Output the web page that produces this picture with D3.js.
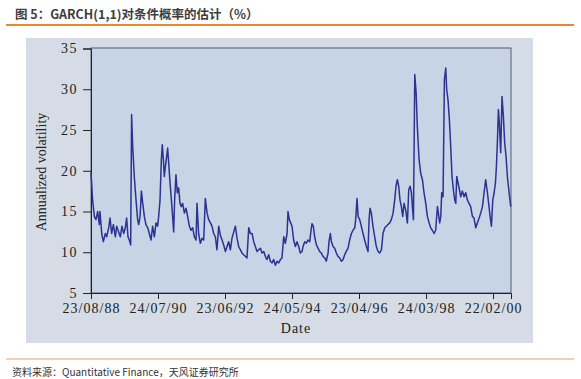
<!DOCTYPE html>
<html><head><meta charset="utf-8">
<script src="https://cdn.jsdelivr.net/npm/d3@7"></script>
<style>
html,body{margin:0;padding:0;background:#fff;}
svg{display:block;}
</style></head>
<body>
<svg id="c" width="581" height="379"></svg>
<script>
// Observation index (trading days since 23/08/88)
const obs = [0,12,25,37,50,62,67,80,92,107,117,132,142,154,167,182,192,206,219,231,244,256,266,276,286,296,303,311,323,336,348,356,366,376,386,398,410,423,435,448,460,473,485,497,505,515,525,532,540,547,555,565,572,580,590,600,609,617,624,634,644,654,664,674,684,697,709,721,734,746,759,771,784,
791,803,816,828,841,853,866,878,891,903,915,928,940,953,965,978,990,1003,1015,1027,1040,1052,1065,1077,1090,1102,1115,1127,1139,1152,1164,1177,1189,1202,1214,1226,1239,1251,1264,1276,1289,1301,1313,1326,1338,1351,1363,1376,1388,1401,1413,1425,1438,1450,1463,1470,1480,1490,1500,1512,1525,1537,1550,1562,
1575,1582,1595,1607,1619,1632,1639,1649,1659,1669,1682,1694,1706,1719,1731,1744,1756,1769,1776,1786,1794,1806,1818,1831,1843,1856,1868,1881,1893,1905,1918,1930,1943,1955,1968,1975,1985,1993,2005,2017,2030,2042,2055,2067,2075,2082,2092,2104,2117,2129,2142,2154,2167,2179,2192,2204,2216,2229,2241,2254,2266,2276,2286,2296,2306,2316,2326,2336,
2348,2361,2371,2381,2391,2398,2406,2416,2426,2435,2448,2460,2473,2485,2498,2510,2523,2535,2547,2560,2572,2585,2592,2602,2610,2617,2627,2637,2647,2654,2664,2674,2684,2694,2704,2714,2722,2729,2739,2749,2759,2771,2784,2796,2809,2821,2833,2846,2858,2871,2883,2896,2908,2921,2933,2945,2958,2970,2978,2988,2998,3008,3018,3025,3033,3040,3047,3057,3067,3077,3087,3097,3107,3120,3132];
const vol = [19.8,16.4,14.4,14.0,15.0,13.4,15.0,12.3,11.3,12.3,11.9,13.0,14.2,12.3,13.4,11.9,13.2,12.5,11.9,13.2,12.3,13.0,14.2,11.9,11.5,10.9,26.9,23.0,19.3,16.4,14.0,13.4,14.4,17.5,16.0,14.4,13.4,13.0,12.3,11.5,13.2,11.9,13.6,13.2,14.4,16.4,21.4,23.2,21.4,19.3,20.5,21.8,22.8,20.9,18.5,16.4,14.4,12.5,16.4,19.5,17.3,17.9,16.0,15.6,16.0,14.8,15.4,14.4,13.2,12.7,13.0,11.9,11.5,
16.0,12.3,11.1,11.7,11.5,16.6,14.8,14.0,13.6,13.2,12.3,11.9,10.3,13.2,12.1,11.5,10.9,10.1,10.7,11.3,10.3,11.7,12.5,13.2,11.7,10.7,10.3,9.9,9.7,9.5,9.3,13.0,12.3,12.3,11.3,10.7,10.1,10.3,10.5,9.9,10.1,9.5,9.1,9.7,8.9,8.7,9.1,8.4,8.9,8.7,9.1,9.3,11.9,11.1,12.3,15.0,14.0,13.6,13.2,11.5,10.7,11.3,10.7,9.9,
10.1,10.7,11.3,11.1,11.5,11.3,12.3,13.5,13.2,11.9,10.9,10.5,10.1,9.9,9.5,9.3,8.9,9.9,11.3,12.3,11.3,10.7,10.5,9.9,9.5,9.3,8.9,9.1,9.7,10.1,10.5,11.5,12.3,12.7,13.0,14.0,16.6,14.4,14.0,13.2,12.3,11.5,10.7,10.1,14.0,15.4,14.8,13.2,11.9,10.7,10.1,9.9,10.3,12.3,13.0,13.2,13.4,13.6,14.0,14.8,16.4,18.1,18.9,18.1,16.4,15.6,14.4,16.0,15.2,13.6,
17.7,18.1,17.3,15.6,14.0,31.8,29.6,25.4,21.4,19.7,18.9,17.3,16.0,14.4,13.6,13.0,12.7,12.3,12.7,15.6,14.8,13.6,14.4,17.3,16.8,31.2,32.6,30.0,28.7,26.3,23.0,19.3,17.7,16.4,16.0,19.3,18.5,17.7,16.8,17.5,16.8,17.3,16.4,16.0,15.6,14.4,14.2,13.0,13.6,14.2,14.8,15.6,17.3,18.9,17.3,15.6,14.4,13.2,16.4,17.3,18.5,20.5,23.8,27.5,25.9,22.2,29.1,26.7,23.4,21.8,19.3,17.3,15.6,14.0,13.6];
const tickObs = [0,500,1000,1500,2000,2500,3000];
const tickLabels = ["23/08/88","24/07/90","23/06/92","24/05/94","23/04/96","24/03/98","22/02/00"];
const yTicks = [5,10,15,20,25,30,35];

const data = obs.map((o,i)=>({o, v: vol[i]}));
const svg = d3.select("#c");

// title
svg.append("text").attr("x",15).attr("y",18.5)
  .style("font-family","'Noto Sans CJK SC','Noto Sans',sans-serif")
  .style("font-size","12.5px").style("font-weight","bold").attr("fill","#3d3d3d")
  .text("图 5：GARCH(1,1)对条件概率的估计（%）");
svg.append("line").attr("x1",6).attr("x2",574).attr("y1",25).attr("y2",25)
  .attr("stroke","#e8892f").attr("stroke-width",2.2);

// outer panel
svg.append("rect").attr("x",26).attr("y",38).attr("width",507).attr("height",305).attr("fill","#d5dce5");

const L=91, R=511, T=48, B=293;
const x = d3.scaleLinear().domain([0,3134]).range([L,R]);
const y = d3.scaleLinear().domain([5,35]).range([B,T+0.5]);

svg.append("rect").attr("x",L).attr("y",T).attr("width",R-L).attr("height",B-T)
  .attr("fill","#c6d4e6").attr("stroke","#3b3f55").attr("stroke-width",0.8);

const serif = "'Liberation Serif','Times New Roman',serif";

const ya = svg.append("g").attr("transform",`translate(${L},0)`)
  .call(d3.axisLeft(y).tickValues(yTicks).tickSize(8).tickPadding(5));
ya.select(".domain").attr("stroke","#222");
ya.selectAll(".tick line").attr("stroke","#222");
ya.selectAll("text").style("font-family",serif).style("font-size","14px").attr("fill","#222")
  .style("letter-spacing","1.5px");

const xa = svg.append("g").attr("transform",`translate(0,${B})`)
  .call(d3.axisBottom(x).tickValues(tickObs).tickFormat((d,i)=>tickLabels[i]).tickSize(6).tickPadding(4));
xa.select(".domain").attr("stroke","#222");
xa.selectAll(".tick line").attr("stroke","#222");
xa.selectAll("text").style("font-family",serif).style("font-size","14px").attr("fill","#222")
  .style("letter-spacing","1px");

svg.append("text").attr("x",296).attr("y",333).attr("text-anchor","middle")
  .style("font-family",serif).style("font-size","14px").style("letter-spacing","1px").attr("fill","#222").text("Date");
svg.append("text").attr("transform","translate(46,172) rotate(-90)").attr("text-anchor","middle")
  .style("font-family",serif).style("font-size","14px").attr("fill","#222").text("Annualized volatility");

const line = d3.line().x(d=>x(d.o)).y(d=>y(d.v));
svg.append("path").datum(data).attr("d",line).attr("fill","none")
  .attr("stroke","#2e3192").attr("stroke-width",1.5).attr("stroke-linejoin","round");

// footer
svg.append("line").attr("x1",6).attr("x2",574).attr("y1",359).attr("y2",359)
  .attr("stroke","#e2a35a").attr("stroke-width",1);
svg.append("text").attr("x",12).attr("y",376)
  .style("font-family","'Noto Sans CJK SC','Noto Sans',sans-serif")
  .style("font-size","10px").attr("fill","#333")
  .text("资料来源：Quantitative Finance，天风证券研究所");
</script>
</body></html>
